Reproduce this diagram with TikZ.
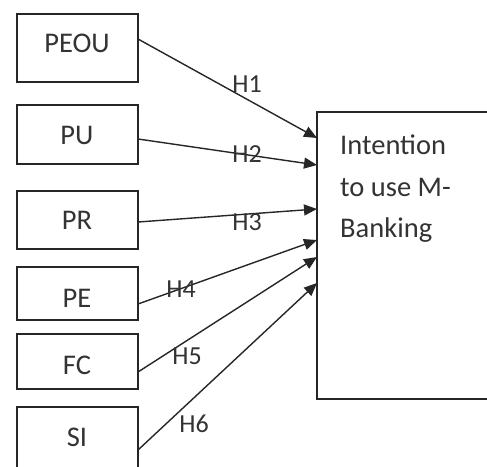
\documentclass[tikz,border=0pt]{standalone}
\usepackage{fontspec}
\setmainfont{Carlito}
\usetikzlibrary{arrows.meta,calc}
\definecolor{ln}{HTML}{262626}
\definecolor{tx}{HTML}{333333}
\begin{document}
\begin{tikzpicture}[x=1pt,y=-1pt,
 box/.style={draw=ln, line width=1.6pt, minimum width=121pt, inner sep=0pt, outer sep=0pt, anchor=north west},
 lbl/.style={text=tx, font=\fontsize{28.5}{34}\selectfont, inner sep=0pt},
 hl/.style={text=tx, font=\fontsize{26}{30}\selectfont, inner sep=0pt},
 arr/.style={draw=ln, line width=1.4pt, -{Triangle[length=13pt,width=11pt]}}]
\useasboundingbox (0,0) rectangle (487,466);
\clip (0,0) rectangle (487,466);
\node[box, minimum height=68pt] (peou) at (17,14) {};
\node[box, minimum height=59pt] (pu) at (17,105) {};
\node[box, minimum height=58pt] (pr) at (17,191) {};
\node[box, minimum height=53pt] (pe) at (17,267) {};
\node[box, minimum height=55pt] (fc) at (17,334) {};
\node[box, minimum height=80pt] (si) at (17,407) {};
\node[box, minimum width=200pt, minimum height=287pt] (intent) at (317,112) {};
\node[lbl] (tpeou) at (77,43) {PEOU};
\node[lbl] (tpu) at (77,135) {PU};
\node[lbl] (tpr) at (77,220) {PR};
\node[lbl] (tpe) at (77,298) {PE};
\node[lbl] (tfc) at (77,365) {FC};
\node[lbl] (tsi) at (77,437) {SI};
\node[anchor=north west, align=left, text=tx, font=\fontsize{28.5}{41.5}\selectfont, inner sep=0pt] (itext) at (340,135) {Intention\\to use M-\\Banking};
\draw[arr] ($(peou.north east)+(0,25)$) -- ($(intent.north west)+(0,26)$);
\draw[arr] ($(pu.north east)+(0,34)$) -- ($(intent.north west)+(0,53)$);
\draw[arr] ($(pr.north east)+(0,31)$) -- ($(intent.north west)+(0,97)$);
\draw[arr] ($(pe.north east)+(0,37)$) -- ($(intent.north west)+(0,128)$);
\draw[arr] ($(fc.north east)+(0,38)$) -- ($(intent.north west)+(0,145)$);
\draw[arr] ($(si.north east)+(0,43)$) -- ($(intent.north west)+(0,171)$);
\node[hl] (h1) at (247,84) {H1};
\node[hl] (h2) at (247,154) {H2};
\node[hl] (h3) at (247,222) {H3};
\node[hl] (h4) at (181,289) {H4};
\node[hl] (h5) at (187,356) {H5};
\node[hl] (h6) at (194,424) {H6};
\end{tikzpicture}
\end{document}
